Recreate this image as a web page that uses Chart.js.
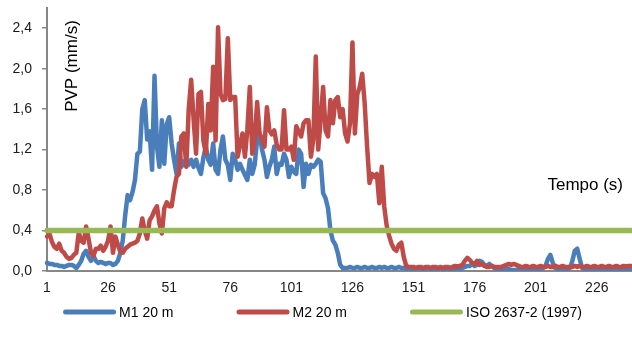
<!DOCTYPE html>
<html>
<head>
<meta charset="utf-8">
<script src="https://cdn.jsdelivr.net/npm/chart.js@4/dist/chart.umd.min.js"></script>
<style>
  html, body { margin: 0; padding: 0; background: #ffffff; }
  #wrap { width: 632px; height: 349px; position: relative; }
</style>
</head>
<body>
<div id="wrap"><canvas id="c"></canvas></div>
<script>
// ---- Data ----
const seconds = Array.from({ length: 240 }, (_, i) => String(i + 1));
const tickLabels = ['1', '26', '51', '76', '101', '126', '151', '176', '201', '226'];
const yTicks = [0, 0.4, 0.8, 1.2, 1.6, 2.0, 2.4];

const m1 = [
  0.08,0.07,0.07,0.06,0.06,0.05,0.05,0.04,0.05,0.06,
  0.06,0.05,0.03,0.06,0.10,0.17,0.20,0.14,0.10,0.15,
  0.10,0.08,0.09,0.08,0.07,0.08,0.08,0.06,0.07,0.10,
  0.18,0.30,0.55,0.75,0.70,0.78,0.90,1.16,1.18,1.60,
  1.69,1.30,1.38,1.00,1.93,1.23,1.03,1.49,1.06,1.45,
  1.52,1.26,1.10,0.96,1.26,1.03,1.08,1.10,1.05,1.10,
  1.03,1.10,1.02,0.96,1.12,1.23,1.10,1.05,1.26,1.00,
  0.96,1.20,1.33,1.10,1.05,0.90,1.16,1.10,1.00,1.06,
  1.00,0.95,0.90,1.10,0.96,1.05,1.30,1.36,1.20,1.10,
  0.93,1.03,1.10,1.23,0.96,1.06,1.05,1.16,1.10,0.93,
  1.03,0.98,0.96,1.20,1.16,0.83,1.06,0.96,1.05,1.03,
  1.06,1.10,1.08,0.77,0.72,0.62,0.40,0.30,0.26,0.18,
  0.06,0.03,0.03,0.03,0.04,0.03,0.03,0.04,0.03,0.03,
  0.04,0.03,0.03,0.04,0.03,0.03,0.04,0.03,0.04,0.03,
  0.03,0.04,0.03,0.03,0.04,0.03,0.03,0.02,0.03,0.02,
  0.02,0.02,0.03,0.02,0.02,0.02,0.03,0.02,0.02,0.02,
  0.02,0.03,0.02,0.02,0.02,0.03,0.02,0.02,0.03,0.02,
  0.03,0.04,0.05,0.05,0.07,0.05,0.06,0.10,0.09,0.06,
  0.05,0.07,0.05,0.03,0.02,0.02,0.02,0.02,0.03,0.02,
  0.01,0.01,0.01,0.02,0.02,0.02,0.02,0.02,0.02,0.02,
  0.02,0.02,0.02,0.03,0.05,0.12,0.16,0.08,0.03,0.02,
  0.02,0.02,0.02,0.02,0.03,0.10,0.20,0.22,0.12,0.03,
  0.02,0.02,0.02,0.02,0.02,0.02,0.02,0.02,0.02,0.02,
  0.02,0.02,0.02,0.02,0.02,0.02,0.02,0.02,0.02,0.02
];

const m2 = [
  0.34,0.37,0.29,0.24,0.22,0.27,0.20,0.18,0.14,0.12,
  0.13,0.16,0.18,0.38,0.30,0.28,0.44,0.32,0.18,0.15,
  0.22,0.22,0.25,0.20,0.24,0.30,0.44,0.18,0.34,0.26,
  0.19,0.18,0.22,0.24,0.26,0.27,0.28,0.30,0.37,0.52,
  0.40,0.32,0.50,0.54,0.60,0.64,0.47,0.37,0.62,0.68,
  0.64,0.64,0.80,0.93,0.96,1.33,1.36,1.03,1.60,1.89,
  1.50,1.16,1.75,1.77,1.29,1.16,1.65,1.39,2.02,1.29,
  2.41,1.75,1.69,1.70,2.30,1.69,1.72,1.72,1.13,1.25,
  1.36,1.13,1.40,1.82,1.16,1.30,1.67,1.36,1.30,1.23,
  1.62,1.39,1.35,1.39,1.25,1.20,1.20,1.59,1.20,1.20,
  1.23,1.10,1.43,1.38,1.33,1.46,1.49,1.49,1.13,1.30,
  2.12,1.20,1.50,1.82,1.39,1.33,1.69,1.46,1.69,1.72,
  1.52,1.60,1.36,1.28,1.46,2.26,1.36,1.75,1.82,1.95,
  1.66,1.23,0.87,0.96,0.93,0.96,0.67,1.03,0.64,0.45,
  0.35,0.27,0.22,0.20,0.26,0.28,0.14,0.05,0.04,0.04,
  0.04,0.03,0.04,0.04,0.03,0.04,0.04,0.03,0.04,0.04,
  0.03,0.04,0.03,0.04,0.04,0.03,0.04,0.05,0.04,0.05,
  0.06,0.10,0.13,0.11,0.08,0.07,0.10,0.06,0.07,0.05,
  0.04,0.04,0.05,0.04,0.04,0.04,0.04,0.05,0.06,0.07,
  0.06,0.07,0.06,0.05,0.04,0.04,0.05,0.04,0.04,0.05,
  0.04,0.04,0.05,0.04,0.04,0.05,0.04,0.04,0.05,0.04,
  0.04,0.05,0.04,0.04,0.04,0.04,0.05,0.04,0.05,0.04,
  0.04,0.05,0.04,0.04,0.05,0.04,0.04,0.05,0.04,0.04,
  0.05,0.04,0.04,0.05,0.04,0.04,0.05,0.04,0.05,0.05
];

const isoLimit = 0.4;   // ISO 2637-2 (1997) reference level
const isoSeries = seconds.map(() => isoLimit);

const seriesNames = ['M1 20 m', 'M2 20 m', 'ISO 2637-2 (1997)'];
const yTitle = 'PVP (mm/s)';
const xTitle = 'Tempo (s)';

// ---- Styling ----
const FONT = '"Liberation Sans", Arial, sans-serif';
const colors = ['#4a7ebb', '#be4b48', '#98b954'];

Chart.defaults.font.family = FONT;
Chart.defaults.color = '#1a1a1a';

const textPlugin = {
  id: 'texts',
  afterDraw(chart) {
    const ctx = chart.ctx;
    const a = chart.chartArea;
    ctx.save();
    ctx.fillStyle = '#000000';
    ctx.font = '17px ' + FONT;
    ctx.textAlign = 'center';
    ctx.textBaseline = 'middle';
    ctx.save();
    ctx.translate(a.left + 25, a.top + 58);
    ctx.rotate(-Math.PI / 2);
    ctx.fillText(yTitle, 0, 0);
    ctx.restore();
    ctx.textAlign = 'right';
    ctx.fillText(xTitle, a.right - 8, a.top + 177);

    // Legend
    ctx.font = '14px ' + FONT;
    ctx.textAlign = 'left';
    const boxW = 53, gapText = 3, gapItem = 63;
    const widths = seriesNames.map(n => boxW + gapText + ctx.measureText(n).width);
    const total = widths.reduce((s, w) => s + w, 0) + gapItem * (widths.length - 1);
    let x = 322.5 - total / 2;
    const y = 312;
    seriesNames.forEach((n, i) => {
      ctx.strokeStyle = colors[i];
      ctx.lineWidth = 5;
      ctx.lineCap = 'round';
      ctx.beginPath();
      ctx.moveTo(x + 2.5, y);
      ctx.lineTo(x + boxW - 2.5, y);
      ctx.stroke();
      ctx.fillStyle = '#000000';
      ctx.fillText(n, x + boxW + gapText, y + 1);
      x += widths[i] + gapItem;
    });
    ctx.restore();
  }
};

new Chart(document.getElementById('c'), {
  type: 'line',
  data: {
    labels: seconds,
    datasets: [
      { label: seriesNames[0], data: m1, borderColor: colors[0], backgroundColor: colors[0], borderWidth: 4.5, order: 3 },
      { label: seriesNames[1], data: m2, borderColor: colors[1], backgroundColor: colors[1], borderWidth: 4.5, order: 2 },
      { label: seriesNames[2], data: isoSeries, borderColor: colors[2], backgroundColor: colors[2], borderWidth: 5.5, order: 1 }
    ]
  },
  options: {
    responsive: true,
    maintainAspectRatio: false,
    animation: false,
    events: [],
    elements: {
      point: { radius: 0, hoverRadius: 0 },
      line: { tension: 0, borderJoinStyle: 'round', borderCapStyle: 'round', fill: false }
    },
    layout: { padding: { top: 8, right: 1, bottom: 48, left: 0 } },
    plugins: { legend: { display: false }, tooltip: { enabled: false }, title: { display: false } },
    scales: {
      x: {
        type: 'category',
        offset: false,
        grid: { display: false, drawTicks: false },
        border: { display: true, color: '#878787', width: 2 },
        ticks: {
          autoSkip: false,
          maxRotation: 0,
          minRotation: 0,
          padding: 9,
          font: { size: 14, family: FONT },
          color: '#1a1a1a',
          callback: function (value) {
            const lab = this.getLabelForValue(value);
            return tickLabels.includes(lab) ? lab : '';
          }
        },
        afterFit(scale) { scale.height = 30; scale.paddingLeft = 0; scale.paddingRight = 0; }
      },
      y: {
        min: 0,
        max: 2.6,
        grid: { drawOnChartArea: false, drawTicks: true, tickLength: 5, color: '#878787', lineWidth: 1.5 },
        border: { display: true, color: '#878787', width: 2 },
        ticks: {
          stepSize: 0.4,
          padding: 10,
          font: { size: 14, family: FONT },
          color: '#1a1a1a',
          callback: v => v.toFixed(1).replace('.', ',')
        },
        afterBuildTicks(scale) {
          scale.ticks = yTicks.map(v => ({ value: v }));
        },
        afterFit(scale) { scale.width = 47; scale.paddingTop = 0; scale.paddingBottom = 0; }
      }
    }
  },
  plugins: [textPlugin]
});
</script>
</body>
</html>
